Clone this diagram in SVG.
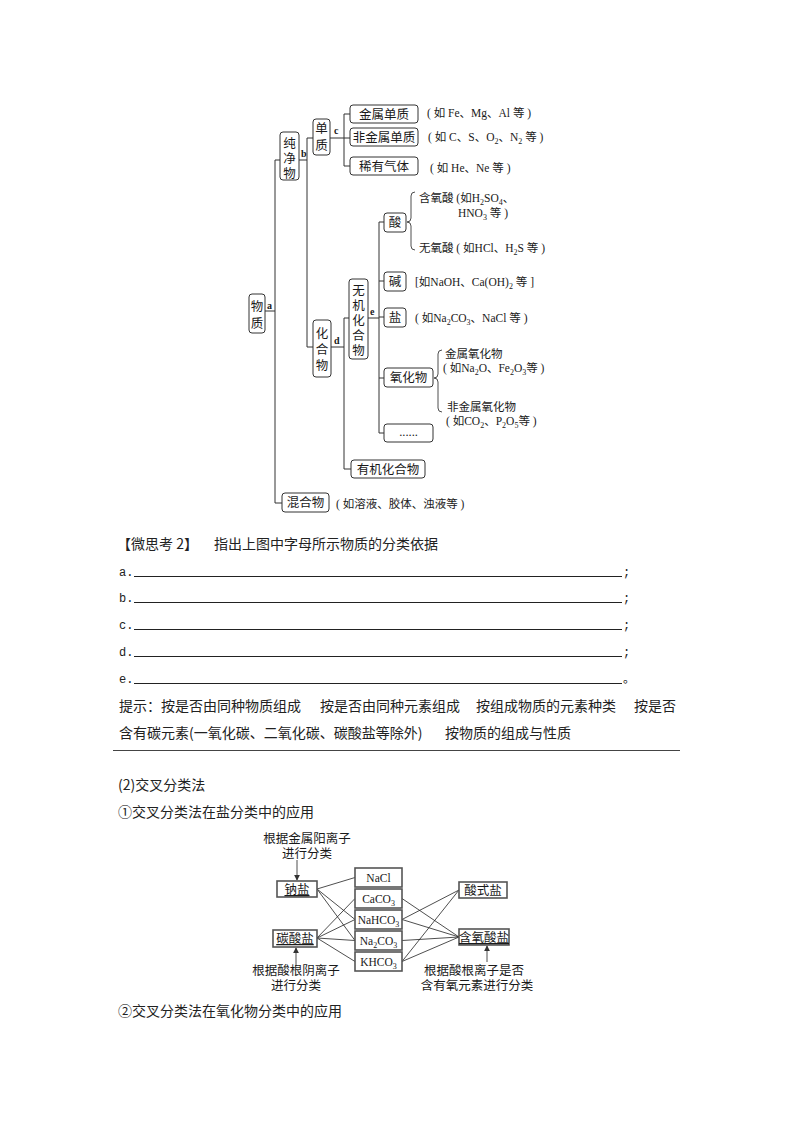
<svg xmlns="http://www.w3.org/2000/svg" width="794" height="1123" viewBox="0 0 794 1123">
<defs>
<marker id="ah" viewBox="0 0 8 8" refX="7" refY="4" markerWidth="6" markerHeight="6" orient="auto" markerUnits="userSpaceOnUse">
<path d="M0,0 L8,4 L0,8 z" fill="#333"/>
</marker>
</defs>
<style>
.bx{fill:#fff;stroke:#333;stroke-width:1}
.cb{fill:#fff;stroke:#555;stroke-width:1.6}
.ln{fill:none;stroke:#333;stroke-width:1}
.tl{fill:none;stroke:#222;stroke-width:0.8}
.t{font-family:"Liberation Serif","Noto Sans CJK SC",serif;font-size:12.5px;fill:#1a1a1a}
.tc{font-family:"Liberation Serif","Noto Sans CJK SC",serif;font-size:12.5px;fill:#1a1a1a;text-anchor:middle}
.fm{font-family:"Liberation Serif","Noto Sans CJK SC",serif;font-size:11.5px;fill:#1a1a1a;text-anchor:middle}
.an{font-family:"Liberation Serif","Noto Sans CJK SC",serif;font-size:11.5px;fill:#1a1a1a}
.lb{font-family:"Liberation Serif",serif;font-size:10px;font-weight:bold;fill:#1a1a1a}
.sub{font-size:8px}
.q{font-family:"Noto Sans CJK SC","Liberation Sans",sans-serif;font-size:14px;fill:#222}
.qs{font-family:"Liberation Mono","Noto Sans CJK SC",monospace;font-size:12px;fill:#222}
</style>
<rect width="794" height="1123" fill="#fff"/>

<!-- Tree connectors -->
<g id="tree-connectors">
<path class="ln" d="M265,311 H275"/>
<path class="ln" d="M280,160 H275 V503 H282"/>
<path class="ln" d="M299,160 H307"/>
<path class="ln" d="M313,138 H307 V347 H313"/>
<path class="ln" d="M330,138 H350"/>
<path class="ln" d="M350,114 H344 V166 H350"/>
<path class="ln" d="M331,347 H344"/>
<path class="ln" d="M349,318 H344 V469 H351"/>
<path class="ln" d="M368,318 H379"/>
<path class="ln" d="M384,222 H379 V433 H384"/>
<path class="ln" d="M379,281 H384 M379,317 H384 M379,378 H384"/>
<path class="tl" d="M415,192 Q411,192 411,196 V218 Q411,222 407,222 Q411,222 411,226 V246 Q411,250 415,250"/>
<path class="tl" d="M442,350 Q438,350 438,354 V374 Q438,378 434,378 Q438,378 438,382 V408 Q438,412 442,412"/>
</g>

<g id="n-wuzhi"><rect class="bx" x="249" y="294" width="16" height="39" rx="3"/>
<text class="tc" x="257" y="311">物</text><text class="tc" x="257" y="328">质</text></g>
<text class="lb" x="267" y="309">a</text>

<g id="n-chunjingwu"><rect class="bx" x="280" y="132" width="19" height="48" rx="3"/>
<text class="tc" x="289.5" y="148">纯</text><text class="tc" x="289.5" y="163">净</text><text class="tc" x="289.5" y="178">物</text></g>
<text class="lb" x="301" y="157">b</text>

<g id="n-danzhi"><rect class="bx" x="313" y="119" width="17" height="36" rx="3"/>
<text class="tc" x="321.5" y="133">单</text><text class="tc" x="321.5" y="150">质</text></g>
<text class="lb" x="334" y="134">c</text>

<g id="n-jinshudanzhi"><rect class="bx" x="350" y="105" width="68" height="18" rx="3"/>
<text class="tc" x="384" y="118.5">金属单质</text></g>
<text class="an" x="427" y="117">( 如 Fe、Mg、Al 等 )</text>

<g id="n-feijinshudanzhi"><rect class="bx" x="350" y="128" width="68" height="18" rx="3"/>
<text class="tc" x="384" y="141.5">非金属单质</text></g>
<text class="an" x="428" y="141">( 如 C、S、O<tspan class="sub" dy="2.5">2</tspan><tspan dy="-2.5">、N</tspan><tspan class="sub" dy="2.5">2</tspan><tspan dy="-2.5"> 等 )</tspan></text>

<g id="n-xiyouqiti"><rect class="bx" x="350" y="157" width="68" height="18" rx="3"/>
<text class="tc" x="384" y="170.5">稀有气体</text></g>
<text class="an" x="430" y="172">( 如 He、Ne 等 )</text>

<g id="n-huahewu"><rect class="bx" x="313" y="320" width="18" height="57" rx="3"/>
<text class="tc" x="322" y="338">化</text><text class="tc" x="322" y="354">合</text><text class="tc" x="322" y="370">物</text></g>
<text class="lb" x="334" y="344">d</text>

<g id="n-wujihuahewu"><rect class="bx" x="349" y="279" width="19" height="80" rx="3"/>
<text class="tc" x="358.5" y="295">无</text><text class="tc" x="358.5" y="310">机</text><text class="tc" x="358.5" y="325">化</text><text class="tc" x="358.5" y="340">合</text><text class="tc" x="358.5" y="355">物</text></g>
<text class="lb" x="370" y="315">e</text>

<g id="n-suan"><rect class="bx" x="384" y="213" width="22" height="19" rx="3"/>
<text class="tc" x="395" y="227">酸</text></g>
<text class="an" x="419" y="202">含氧酸 (如H<tspan class="sub" dy="2.5">2</tspan><tspan dy="-2.5">SO</tspan><tspan class="sub" dy="2.5">4</tspan><tspan dy="-2.5">、</tspan></text>
<text class="an" x="458" y="217">HNO<tspan class="sub" dy="2.5">3</tspan><tspan dy="-2.5"> 等 )</tspan></text>
<text class="an" x="419" y="252">无氧酸 ( 如HCl、H<tspan class="sub" dy="2.5">2</tspan><tspan dy="-2.5">S 等 )</tspan></text>

<g id="n-jian"><rect class="bx" x="384" y="272" width="22" height="19" rx="3"/>
<text class="tc" x="395" y="286">碱</text></g>
<text class="an" x="415" y="286">[如NaOH、Ca(OH)<tspan class="sub" dy="2.5">2</tspan><tspan dy="-2.5"> 等 ]</tspan></text>

<g id="n-yan"><rect class="bx" x="384" y="308" width="22" height="19" rx="3"/>
<text class="tc" x="395" y="322">盐</text></g>
<text class="an" x="415" y="322">( 如Na<tspan class="sub" dy="2.5">2</tspan><tspan dy="-2.5">CO</tspan><tspan class="sub" dy="2.5">3</tspan><tspan dy="-2.5">、NaCl 等 )</tspan></text>

<g id="n-yanghuawu"><rect class="bx" x="384" y="368" width="49" height="19" rx="3"/>
<text class="tc" x="408.5" y="382">氧化物</text></g>
<text class="an" x="445" y="358">金属氧化物</text>
<text class="an" x="443" y="372">( 如Na<tspan class="sub" dy="2.5">2</tspan><tspan dy="-2.5">O、Fe</tspan><tspan class="sub" dy="2.5">2</tspan><tspan dy="-2.5">O</tspan><tspan class="sub" dy="2.5">3</tspan><tspan dy="-2.5">等 )</tspan></text>
<text class="an" x="447" y="411">非金属氧化物</text>
<text class="an" x="446" y="425">( 如CO<tspan class="sub" dy="2.5">2</tspan><tspan dy="-2.5">、P</tspan><tspan class="sub" dy="2.5">2</tspan><tspan dy="-2.5">O</tspan><tspan class="sub" dy="2.5">5</tspan><tspan dy="-2.5">等 )</tspan></text>

<g id="n-dots"><rect class="bx" x="384" y="424" width="49" height="18" rx="3"/>
<text class="tc" x="408.5" y="436">......</text></g>

<g id="n-youjihuahewu"><rect class="bx" x="351" y="460" width="74" height="18" rx="3"/>
<text class="tc" x="388" y="473.5">有机化合物</text></g>

<g id="n-hunhewu"><rect class="bx" x="282" y="493" width="47" height="19" rx="3"/>
<text class="tc" x="305.5" y="507">混合物</text></g>
<text class="an" x="336" y="508">( 如溶液、胶体、浊液等 )</text>

<!-- Question section -->
<g id="question">
<text class="q" x="117" y="549">【微思考 2】</text>
<text class="q" x="214" y="549">指出上图中字母所示物质的分类依据</text>
<text class="qs" x="119" y="576">a.</text><line x1="134" y1="576.5" x2="622" y2="576.5" stroke="#222" stroke-width="1"/><text class="qs" x="623" y="576">;</text>
<text class="qs" x="119" y="602">b.</text><line x1="134" y1="602.5" x2="622" y2="602.5" stroke="#222" stroke-width="1"/><text class="qs" x="623" y="602">;</text>
<text class="qs" x="119" y="629">c.</text><line x1="134" y1="629.5" x2="622" y2="629.5" stroke="#222" stroke-width="1"/><text class="qs" x="623" y="629">;</text>
<text class="qs" x="119" y="656">d.</text><line x1="134" y1="656.5" x2="622" y2="656.5" stroke="#222" stroke-width="1"/><text class="qs" x="623" y="656">;</text>
<text class="qs" x="119" y="683">e.</text><line x1="134" y1="683.5" x2="622" y2="683.5" stroke="#222" stroke-width="1"/><text class="qs" x="623" y="683">。</text>
<text class="q" x="119" y="711">提示：按是否由同种物质组成</text>
<text class="q" x="320" y="711">按是否由同种元素组成</text>
<text class="q" x="476" y="711">按组成物质的元素种类</text>
<text class="q" x="634" y="711">按是否</text>
<text class="q" x="119" y="738">含有碳元素(一氧化碳、二氧化碳、碳酸盐等除外)</text>
<text class="q" x="445" y="738">按物质的组成与性质</text>
<line x1="113" y1="750.5" x2="680" y2="750.5" stroke="#444" stroke-width="1"/>
<text class="q" x="118" y="790">(2)交叉分类法</text>
<text class="q" x="118" y="817">①交叉分类法在盐分类中的应用</text>
<text class="q" x="118" y="1016">②交叉分类法在氧化物分类中的应用</text>
</g>

<!-- Cross classification connectors -->
<g id="cross-connectors">
<path class="tl" d="M317,889 L355,877.5 M317,889 L355,919.5 M317,889 L355,940.5"/>
<path class="tl" d="M317,938 L355,898.5 M317,938 L355,919.5 M317,938 L355,940.5 M317,938 L355,961.5"/>
<path class="tl" d="M402,898.5 L459,937 M402,919.5 L459,890 M402,919.5 L459,937 M402,940.5 L459,937 M402,961.5 L459,890 M402,961.5 L459,937"/>
<line class="tl" x1="297" y1="860" x2="297" y2="880" marker-end="url(#ah)"/>
<line class="tl" x1="296" y1="966" x2="296" y2="948" marker-end="url(#ah)"/>
<line class="tl" x1="487" y1="962" x2="487" y2="946" marker-end="url(#ah)"/>
</g>

<text class="tc" x="307" y="843">根据金属阳离子</text>
<text class="tc" x="307" y="858">进行分类</text>

<g id="c-nayan"><rect class="cb" x="277" y="881" width="40" height="16"/>
<text class="tc" x="297" y="894" text-decoration="underline">钠盐</text></g>
<g id="c-tansuanyan"><rect class="cb" x="273" y="930" width="44" height="17"/>
<text class="tc" x="295" y="943" text-decoration="underline">碳酸盐</text></g>

<text class="tc" x="296" y="975">根据酸根阴离子</text>
<text class="tc" x="296" y="990">进行分类</text>

<g id="c-nacl"><rect class="cb" x="355" y="868" width="47" height="19"/>
<text class="fm" x="378.5" y="882">NaCl</text></g>
<g id="c-caco3"><rect class="cb" x="355" y="889" width="47" height="19"/>
<text class="fm" x="378.5" y="903">CaCO<tspan class="sub" dy="2.5">3</tspan></text></g>
<g id="c-nahco3"><rect class="cb" x="355" y="910" width="47" height="19"/>
<text class="fm" x="378.5" y="924" font-size="11px">NaHCO<tspan class="sub" dy="2.5" font-size="7.5px">3</tspan></text></g>
<g id="c-na2co3"><rect class="cb" x="355" y="931" width="47" height="19"/>
<text class="fm" x="378.5" y="945">Na<tspan class="sub" dy="2.5">2</tspan><tspan dy="-2.5">CO</tspan><tspan class="sub" dy="2.5">3</tspan></text></g>
<g id="c-khco3"><rect class="cb" x="355" y="952" width="47" height="19"/>
<text class="fm" x="378.5" y="966">KHCO<tspan class="sub" dy="2.5">3</tspan></text></g>

<g id="c-suanshiyan"><rect class="cb" x="459" y="882" width="48" height="16"/>
<text class="tc" x="483" y="895">酸式盐</text></g>
<g id="c-hanyangsuanyan"><rect class="cb" x="459" y="929" width="50" height="16"/>
<text class="tc" x="484" y="942" text-decoration="underline">含氧酸盐</text></g>

<text class="tc" x="474" y="975">根据酸根离子是否</text>
<text class="tc" x="477" y="990">含有氧元素进行分类</text>
</svg>
